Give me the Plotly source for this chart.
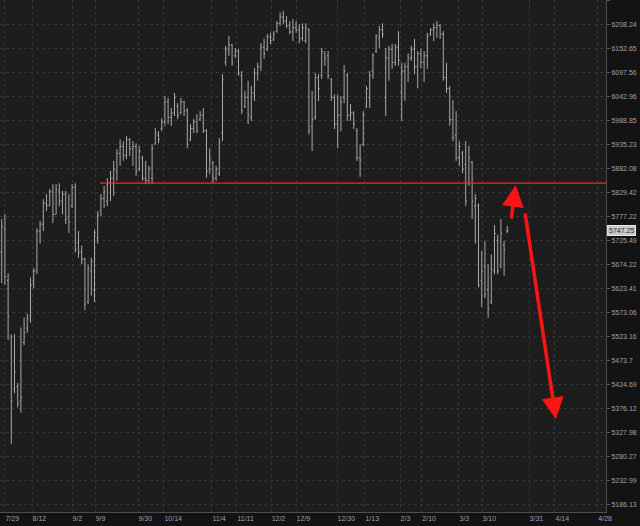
import math
import plotly.graph_objects as go

opens = [5700, 5750, 5640, 5520, 5415, 5420, 5390, 5510, 5540, 5565,
         5640, 5660, 5745, 5760, 5805, 5800, 5830, 5781, 5830, 5810,
         5825, 5775, 5800, 5840, 5720, 5700, 5685, 5595, 5660, 5620,
         5730, 5790, 5815, 5810, 5850, 5860, 5875, 5915, 5930, 5910,
         5945, 5925, 5930, 5880, 5905, 5860, 5855, 5860, 5935, 5955,
         5970, 5985, 6030, 5995, 6005, 6020, 6005, 6030, 6010, 5945,
         5970, 5985, 5990, 6000, 5965, 5880, 5895, 5860, 5870, 5960,
         6120, 6150, 6160, 6135, 6145, 6090, 6020, 6040, 5995, 6050,
         6095, 6110, 6155, 6150, 6178, 6172, 6192, 6210, 6225, 6215,
         6205, 6190, 6200, 6195, 6175, 6170, 6195, 5975, 5995, 6085,
         6090, 6140, 6135, 6080, 6040, 5980, 6000, 6040, 6090, 6000,
         6005, 5965, 5905, 5935, 6020, 6040, 6100, 6145, 6175, 6195,
         6040, 6130, 6150, 6120, 6155, 6050, 6100, 6110, 6130, 6150,
         6110, 6140, 6120, 6135, 6185, 6195, 6200, 6205, 6185, 6085,
         6060, 5990, 5955, 5905, 5915, 5890, 5850, 5895, 5800, 5800,
         5640, 5670, 5620, 5595, 5660, 5725, 5670, 5715, 5745]
highs = [5771, 5782, 5655, 5527, 5527, 5427, 5541, 5562, 5570, 5646,
         5666, 5751, 5767, 5814, 5825, 5836, 5847, 5847, 5849, 5832,
         5832, 5825, 5847, 5849, 5745, 5714, 5688, 5674, 5688, 5748,
         5788, 5825, 5843, 5860, 5876, 5898, 5924, 5946, 5942, 5953,
         5949, 5942, 5937, 5931, 5909, 5898, 5887, 5935, 5971, 5964,
         5993, 6043, 6039, 6016, 6050, 6027, 6039, 6032, 6016, 5980,
         5991, 6002, 6009, 6016, 5969, 5926, 5898, 5887, 5949, 6093,
         6158, 6181, 6162, 6153, 6151, 6100, 6055, 6078, 6066, 6107,
         6119, 6164, 6174, 6185, 6188, 6192, 6215, 6236, 6239, 6227,
         6215, 6220, 6215, 6208, 6210, 6210, 6199, 6055, 6096, 6093,
         6153, 6146, 6146, 6084, 6047, 6047, 6043, 6114, 6096, 6025,
         6009, 5971, 5935, 6009, 6066, 6100, 6141, 6185, 6204, 6210,
         6153, 6158, 6162, 6162, 6192, 6119, 6119, 6141, 6158, 6174,
         6146, 6151, 6146, 6188, 6199, 6210, 6215, 6208, 6192, 6119,
         6066, 6034, 6009, 5942, 5920, 5942, 5931, 5898, 5825, 5805,
         5703, 5724, 5674, 5695, 5758, 5737, 5771, 5724, 5756]
lows = [5634, 5630, 5515, 5305, 5406, 5378, 5367, 5505, 5530, 5551,
        5623, 5653, 5718, 5745, 5788, 5799, 5762, 5781, 5799, 5781,
        5760, 5741, 5795, 5699, 5688, 5674, 5577, 5590, 5608, 5594,
        5718, 5777, 5795, 5799, 5810, 5821, 5854, 5887, 5898, 5902,
        5909, 5887, 5865, 5876, 5854, 5847, 5847, 5847, 5935, 5937,
        5964, 5976, 5980, 5976, 5998, 5991, 6002, 5998, 5926, 5942,
        5960, 5960, 5987, 5960, 5861, 5869, 5849, 5854, 5865, 5942,
        6112, 6135, 6112, 6130, 6089, 6002, 6016, 5980, 5987, 6032,
        6078, 6100, 6128, 6146, 6162, 6169, 6188, 6204, 6208, 6199,
        6185, 6169, 6188, 6164, 6169, 6164, 5957, 5920, 5990, 6032,
        6082, 6112, 6082, 6032, 5969, 5926, 5964, 6027, 5987, 5987,
        5969, 5898, 5863, 5931, 6016, 6016, 6082, 6142, 6153, 6176,
        5998, 6078, 6105, 6112, 6112, 5987, 6032, 6075, 6123, 6093,
        6061, 6107, 6075, 6105, 6181, 6169, 6176, 6174, 6078, 6050,
        5976, 5942, 5898, 5887, 5871, 5799, 5843, 5771, 5718, 5625,
        5584, 5602, 5561, 5590, 5653, 5653, 5665, 5650, 5741]
closes = [5755, 5648, 5565, 5390, 5450, 5385, 5398, 5530, 5560, 5630,
          5660, 5745, 5760, 5805, 5800, 5830, 5781, 5835, 5810, 5825,
          5770, 5765, 5840, 5705, 5700, 5685, 5590, 5665, 5680, 5742,
          5780, 5815, 5830, 5850, 5860, 5880, 5915, 5930, 5910, 5945,
          5925, 5930, 5875, 5920, 5860, 5855, 5880, 5925, 5960, 5945,
          5985, 6030, 5995, 6005, 6040, 6000, 6030, 6010, 5935, 5970,
          5985, 5965, 6000, 5965, 5875, 5900, 5860, 5880, 5940, 6080,
          6150, 6160, 6120, 6145, 6095, 6010, 6040, 6000, 6050, 6095,
          6110, 6155, 6140, 6180, 6170, 6185, 6210, 6225, 6215, 6205,
          6190, 6200, 6195, 6175, 6200, 6200, 5965, 5990, 6085, 6060,
          6145, 6130, 6090, 6040, 5980, 6000, 6030, 6100, 6000, 6005,
          5980, 5905, 5900, 6000, 6060, 6090, 6135, 6180, 6195, 6185,
          6130, 6150, 6120, 6155, 6125, 6100, 6110, 6130, 6150, 6110,
          6140, 6120, 6135, 6180, 6195, 6200, 6205, 6185, 6085, 6060,
          5990, 5950, 5905, 5930, 5880, 5810, 5905, 5810, 5815, 5630,
          5660, 5610, 5580, 5665, 5740, 5660, 5740, 5705, 5747]

bar_index = list(range(len(closes)))

# date ticks (positions in bar-index units) and labels
date_tick_pos = [1.0, 9.5, 22.0, 29.2, 42.6, 50.7, 65.7, 73.5, 84.2, 92.0,
                 104.8, 113.5, 124.5, 131.3, 142.9, 150.1, 164.8, 172.9, 186.3]
date_tick_labels = ["7/29", "8/12", "9/2", "9/9", "9/30", "10/14", "11/4", "11/11",
                    "12/2", "12/9", "12/30", "1/13", "2/3", "2/10", "3/3", "3/10",
                    "3/31", "4/14", "4/28"]

price_tick_labels = ["6264.34", "6208.24", "6152.65", "6097.56", "6042.96", "5988.85",
                     "5935.23", "5882.08", "5829.42", "5777.22", "5725.49", "5674.22",
                     "5623.41", "5573.06", "5523.16", "5473.7", "5424.69", "5376.12",
                     "5327.98", "5280.27", "5232.99", "5186.13"]
price_tick_vals = [float(t) for t in price_tick_labels]

last_price = 5747.25
resistance_level = 5849
resistance_start = 30.7

# arrows: (tail_x, tail_price, tip_x, tip_price)
arrow_up = (159.2, 5769, 160.6, 5845)
arrow_down = (163.5, 5786, 173.2, 5354)

x_range = [-0.53, 188.84]
y_range_prices = [5171.0, 6264.6]

bar_color = "#a9a9a9"
label_color = "#97a1b2"
grid_color = "#363636"
font_family = "Liberation Sans, Arial, sans-serif"

fig = go.Figure()
fig.add_trace(go.Ohlc(
    x=bar_index, open=opens, high=highs, low=lows, close=closes,
    increasing=dict(line=dict(color=bar_color, width=1)),
    decreasing=dict(line=dict(color=bar_color, width=1)),
    tickwidth=0.38, hoverinfo="skip", showlegend=False,
))
fig.add_trace(go.Scatter(
    x=[resistance_start, x_range[1]], y=[resistance_level, resistance_level],
    mode="lines", line=dict(color="#f02828", width=1.2),
    hoverinfo="skip", showlegend=False,
))

annotations = []
for tx, tp, hx, hp in (arrow_up, arrow_down):
    annotations.append(dict(
        x=hx, y=math.log10(hp), ax=tx, ay=math.log10(tp),
        xref="x", yref="y", axref="x", ayref="y",
        text="", showarrow=True, arrowhead=2, arrowsize=1.25,
        arrowwidth=3.5, arrowcolor="#ff1414", standoff=0, startstandoff=0,
    ))
annotations.append(dict(
    x=1, xref="paper", xanchor="left", xshift=1,
    y=math.log10(last_price), yref="y", yanchor="middle",
    text="5747.25", showarrow=False,
    font=dict(family=font_family, size=7, color="#2a2a2a"),
    bgcolor="#c9c9c9", bordercolor="#e6e6e6", borderwidth=1, borderpad=1,
))

fig.update_layout(
    width=640, height=526,
    margin=dict(l=0, r=34, t=0, b=14),
    paper_bgcolor="#131313",
    plot_bgcolor="#1d1d1d",
    font=dict(family=font_family, size=7, color=label_color),
    showlegend=False,
    annotations=annotations,
    xaxis=dict(
        range=x_range, tickmode="array", tickvals=date_tick_pos, ticktext=date_tick_labels,
        showgrid=True, gridcolor=grid_color, gridwidth=1, griddash="dot",
        showline=True, linecolor="#4d4d4d", linewidth=1, ticks="",
        ticklabelposition="outside right", zeroline=False,
        tickfont=dict(family=font_family, size=7, color=label_color),
        rangeslider=dict(visible=False), fixedrange=True,
    ),
    yaxis=dict(
        type="log", range=[math.log10(v) for v in y_range_prices],
        side="right", tickmode="array", tickvals=price_tick_vals, ticktext=price_tick_labels,
        showgrid=True, gridcolor=grid_color, gridwidth=1, griddash="dot",
        showline=True, linecolor="#4d4d4d", linewidth=1,
        ticks="outside", ticklen=3, tickcolor="#5a5a5a",
        zeroline=False, tickfont=dict(family=font_family, size=7, color=label_color),
        fixedrange=True,
    ),
)

fig.write_html(
    "out.html",
    config={"displayModeBar": False},
    post_script="document.body.style.margin='0';document.body.style.padding='0';"
                "document.body.style.background='#131313';",
)
